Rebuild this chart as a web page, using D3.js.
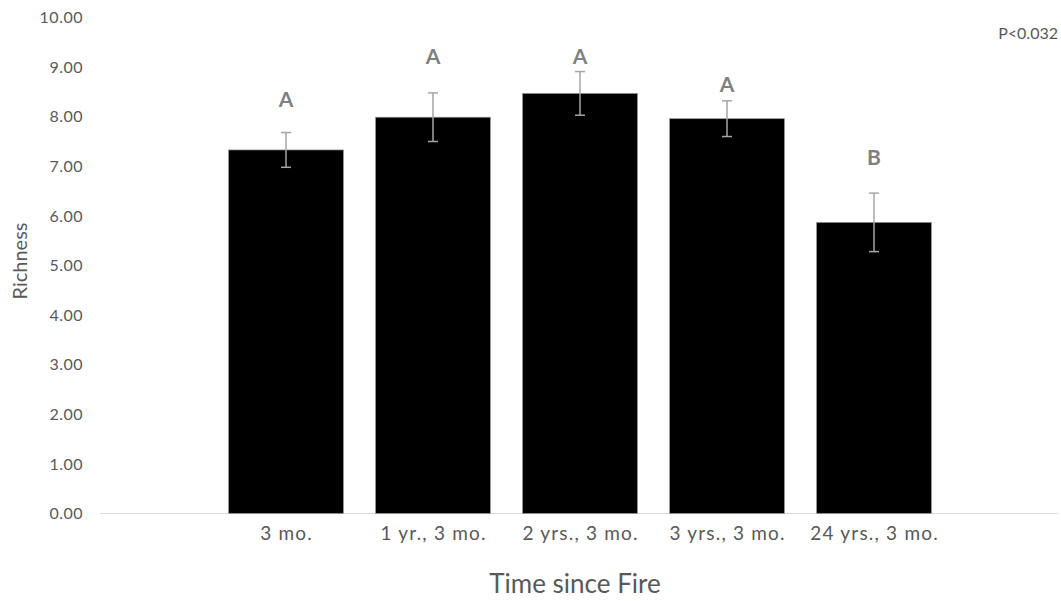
<!DOCTYPE html>
<html>
<head>
<meta charset="utf-8">
<script src="https://cdnjs.cloudflare.com/ajax/libs/d3/7.8.5/d3.min.js"></script>
<style>
  body { margin: 0; background: #fff; }
  text { font-family: Lato, "Open Sans", sans-serif; }
</style>
</head>
<body>
<div id="chart"></div>
<script>
// data
const categories = ["3 mo.", "1 yr., 3 mo.", "2 yrs., 3 mo.", "3 yrs., 3 mo.", "24 yrs., 3 mo."];
const richness = [7.33, 7.99, 8.47, 7.96, 5.87];
const errors = [0.35, 0.49, 0.44, 0.36, 0.59];
const groups = ["A", "A", "A", "A", "B"];
const groupLabelAt = [8.35, 9.21, 9.21, 8.66, 7.18];
const yTicks = [0, 1, 2, 3, 4, 5, 6, 7, 8, 9, 10];

const width = 1061, height = 601;
const svg = d3.select("#chart").append("svg")
  .attr("width", width).attr("height", height);

const x = d3.scaleBand()
  .domain(categories)
  .range([212.5, 947.5])
  .paddingInner(0.218)
  .paddingOuter(0.109);

const y = d3.scaleLinear().domain([0, 10]).range([513.5, 17.5]);

// y tick labels (no axis line in the original)
const yAxis = svg.append("g")
  .attr("transform", "translate(100,0)")
  .call(d3.axisLeft(y).tickValues(yTicks).tickFormat(d3.format(".2f")).tickSize(0).tickPadding(17));
yAxis.select(".domain").remove();
yAxis.selectAll("text")
  .attr("fill", "#595959")
  .style("font-size", "16px")
  .style("letter-spacing", "0.5px")
  .style("font-family", "Lato, sans-serif");

// category axis
svg.append("line")
  .attr("x1", 100).attr("x2", 1058)
  .attr("y1", y(0)).attr("y2", y(0))
  .attr("stroke", "#d9d9d9").attr("stroke-width", 1);

const xAxis = svg.append("g")
  .attr("transform", `translate(0,${y(0)})`)
  .call(d3.axisBottom(x).tickSize(0).tickPadding(13));
xAxis.select(".domain").remove();
xAxis.selectAll("text")
  .attr("fill", "#595959")
  .attr("dx", "0.6px")
  .style("font-size", "19px")
  .style("letter-spacing", "1.2px")
  .style("font-family", "Lato, sans-serif");

// bars
svg.selectAll("rect.bar")
  .data(categories)
  .enter().append("rect")
  .attr("class", "bar")
  .attr("x", d => x(d))
  .attr("width", x.bandwidth())
  .attr("y", (d, i) => y(richness[i]))
  .attr("height", (d, i) => y(0) - y(richness[i]))
  .attr("fill", "#000")
  .attr("stroke", "#9a9a9a")
  .attr("stroke-width", 0.7);

// error bars
const err = svg.selectAll("g.err")
  .data(categories)
  .enter().append("g")
  .attr("class", "err")
  .attr("stroke", "#a6a6a6")
  .attr("stroke-width", 1.5);
err.append("line")
  .attr("x1", d => x(d) + x.bandwidth() / 2)
  .attr("x2", d => x(d) + x.bandwidth() / 2)
  .attr("y1", (d, i) => y(richness[i] + errors[i]))
  .attr("y2", (d, i) => y(richness[i] - errors[i]));
[1, -1].forEach(s => {
  err.append("line")
    .attr("x1", d => x(d) + x.bandwidth() / 2 - 5)
    .attr("x2", d => x(d) + x.bandwidth() / 2 + 5)
    .attr("y1", (d, i) => y(richness[i] + s * errors[i]))
    .attr("y2", (d, i) => y(richness[i] + s * errors[i]));
});

// group letters
svg.selectAll("text.grp")
  .data(categories)
  .enter().append("text")
  .attr("class", "grp")
  .attr("x", d => x(d) + x.bandwidth() / 2)
  .attr("y", (d, i) => y(groupLabelAt[i]))
  .attr("dy", "0.36em")
  .attr("text-anchor", "middle")
  .attr("fill", "#808080")
  .style("font-size", "21px")
  .style("font-weight", "bold")
  .text((d, i) => groups[i]);

// axis titles
svg.append("text")
  .attr("x", 575).attr("y", 584)
  .attr("dy", "0.36em")
  .attr("text-anchor", "middle")
  .attr("fill", "#595959")
  .style("font-size", "26px")
  .text("Time since Fire");

svg.append("text")
  .attr("transform", "translate(20,261) rotate(-90)")
  .attr("dy", "0.36em")
  .attr("text-anchor", "middle")
  .attr("fill", "#595959")
  .style("font-size", "20px")
  .text("Richness");

svg.append("text")
  .attr("x", 1058).attr("y", 33)
  .attr("dy", "0.36em")
  .attr("text-anchor", "end")
  .attr("fill", "#595959")
  .style("font-size", "16px")
  .text("P<0.032");
</script>
</body>
</html>
